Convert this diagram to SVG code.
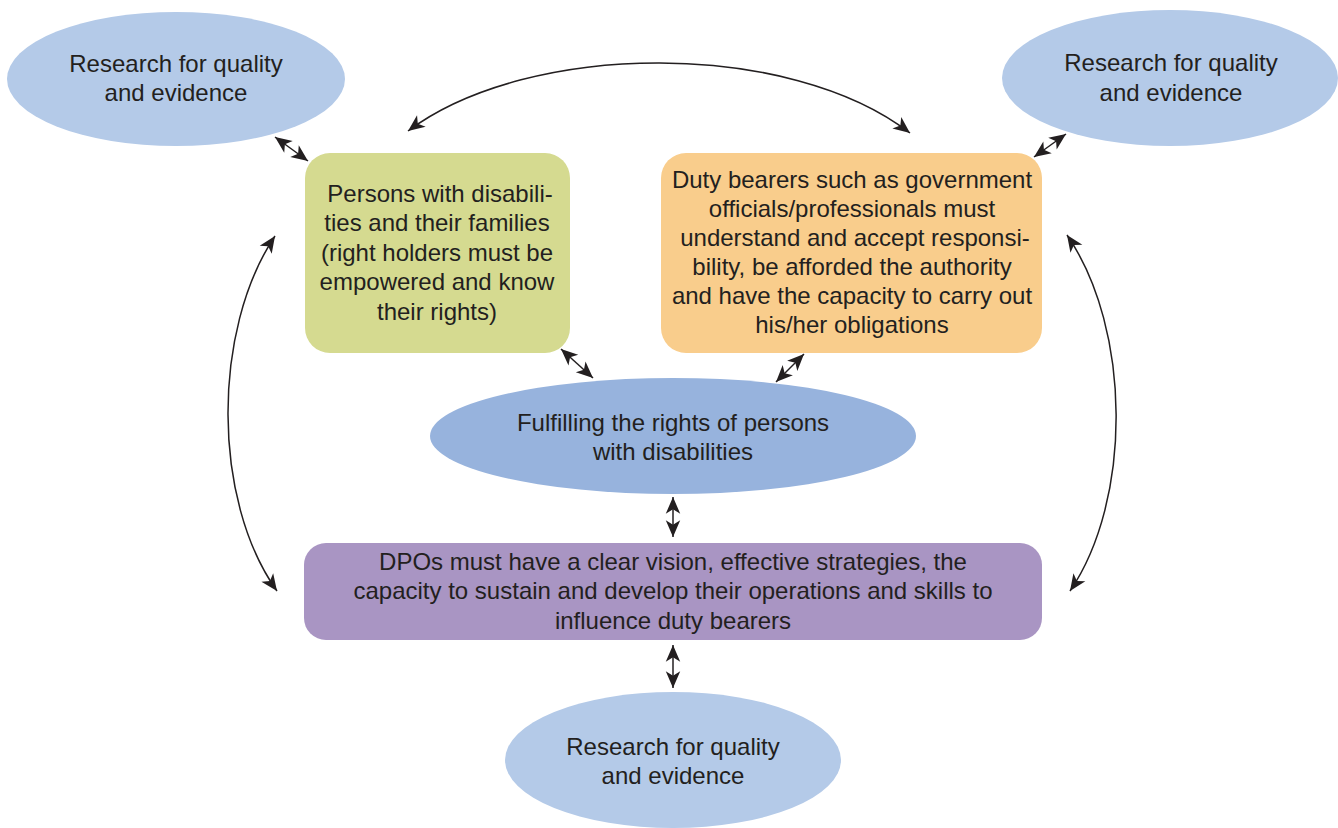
<svg xmlns="http://www.w3.org/2000/svg" width="1338" height="828" viewBox="0 0 1338 828">
<style>
.t{font-family:"Liberation Sans",Arial,sans-serif;font-size:24px;fill:#231f20;text-anchor:middle}
.c{fill:none;stroke:#231f20;stroke-width:1.5}
.rq{fill:#b4cae8}
</style>
<defs>
<marker id="ah" markerUnits="userSpaceOnUse" markerWidth="20" markerHeight="20" viewBox="-16 -8 18 16" refX="0" refY="0" orient="auto-start-reverse">
<path d="M0,0 L-15,-6.5 L-11,0 L-15,6.5 Z" fill="#231f20"/>
</marker>
</defs>
<rect width="1338" height="828" fill="#ffffff"/>
<g id="research-tl">
<ellipse class="rq" cx="176" cy="79" rx="169" ry="67"/>
<text class="t" x="176" y="72">Research for quality</text>
<text class="t" x="176" y="101">and evidence</text>
</g>
<g id="research-tr">
<ellipse class="rq" cx="1170" cy="78" rx="168" ry="68"/>
<text class="t" x="1171" y="71">Research for quality</text>
<text class="t" x="1171" y="101">and evidence</text>
</g>
<g id="research-bottom">
<ellipse class="rq" cx="673" cy="760" rx="168" ry="68"/>
<text class="t" x="673" y="755">Research for quality</text>
<text class="t" x="673" y="784">and evidence</text>
</g>
<g id="persons">
<rect x="305" y="153" width="265" height="200" rx="25" fill="#d5da90"/>
<text class="t" x="440" y="202">Persons with disabili-</text>
<text class="t" x="437" y="231">ties and their families</text>
<text class="t" x="437" y="261">(right holders must be</text>
<text class="t" x="437" y="290">empowered and know</text>
<text class="t" x="437" y="320">their rights)</text>
</g>
<g id="duty-bearers">
<rect x="661" y="153" width="381" height="200" rx="25" fill="#f9cd8c"/>
<text class="t" x="852" y="188">Duty bearers such as government</text>
<text class="t" x="852" y="217">officials/professionals must</text>
<text class="t" x="855" y="246">understand and accept responsi-</text>
<text class="t" x="852" y="275">bility, be afforded the authority</text>
<text class="t" x="852" y="304">and have the capacity to carry out</text>
<text class="t" x="852" y="333">his/her obligations</text>
</g>
<g id="fulfilling">
<ellipse cx="673" cy="436" rx="243" ry="58" fill="#97b3dd"/>
<text class="t" x="673" y="431">Fulfilling the rights of persons</text>
<text class="t" x="673" y="460">with disabilities</text>
</g>
<g id="dpos">
<rect x="304" y="543" width="738" height="97" rx="22" fill="#a995c3"/>
<text class="t" x="673" y="570">DPOs must have a clear vision, effective strategies, the</text>
<text class="t" x="673" y="599">capacity to sustain and develop their operations and skills to</text>
<text class="t" x="673" y="629">influence duty bearers</text>
</g>
<g id="connectors">
<path class="c" d="M408 131 C530 40 790 40 910 133" marker-start="url(#ah)" marker-end="url(#ah)"/>
<path class="c" d="M275 236 C212 330 212 500 277 591" marker-start="url(#ah)" marker-end="url(#ah)"/>
<path class="c" d="M1067 235 C1132 330 1132 500 1070 591" marker-start="url(#ah)" marker-end="url(#ah)"/>
<path class="c" d="M275 137 L308 161" marker-start="url(#ah)" marker-end="url(#ah)"/>
<path class="c" d="M1066 134 L1034 157" marker-start="url(#ah)" marker-end="url(#ah)"/>
<path class="c" d="M561 349 L593 378" marker-start="url(#ah)" marker-end="url(#ah)"/>
<path class="c" d="M804 354 L776 382" marker-start="url(#ah)" marker-end="url(#ah)"/>
<path class="c" d="M673 497 L673 537" marker-start="url(#ah)" marker-end="url(#ah)"/>
<path class="c" d="M673 645 L673 688" marker-start="url(#ah)" marker-end="url(#ah)"/>
</g>
</svg>
